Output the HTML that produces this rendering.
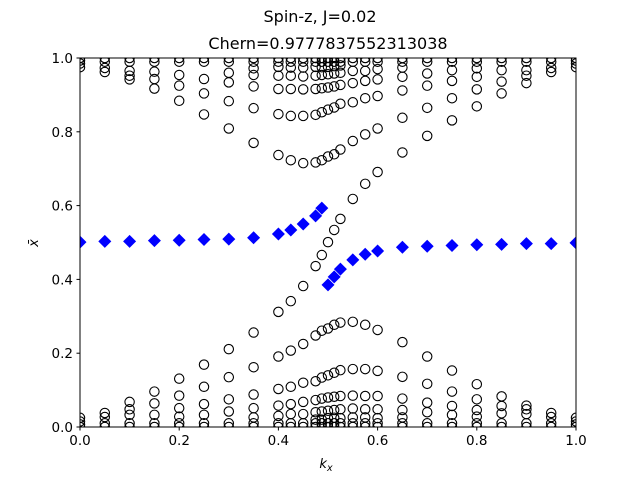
<!DOCTYPE html>
<html><head><meta charset="utf-8"><style>body{margin:0;background:#fff}svg{display:block;font-family:"DejaVu Sans","Liberation Sans",sans-serif}</style></head>
<body>
<svg id="chart" width="640" height="480">
<defs><clipPath id="pc"><rect x="80" y="58" width="496" height="369"/></clipPath></defs>
<rect width="640" height="480" fill="#fff"/>
<text x="320" y="22" text-anchor="middle" font-size="16">Spin-z, J=0.02</text>
<text x="328" y="49" text-anchor="middle" font-size="16">Chern=0.9777837552313038</text>
<g id="marks" clip-path="url(#pc)"></g>
<rect x="80" y="58" width="496" height="369" fill="none" stroke="#000" stroke-width="1"/>
<g id="axes"></g>
<text x="326" y="468" text-anchor="middle" font-size="13" font-style="italic">k<tspan font-size="9.5" dy="3" font-style="italic">x</tspan></text>
<text x="0" y="0" transform="translate(38,243) rotate(-90)" text-anchor="middle" font-size="13" font-style="italic">x̄</text>
</svg>
<script>
const xTicks=[0,0.2,0.4,0.6,0.8,1.0];
const yTicks=[0,0.2,0.4,0.6,0.8,1.0];
const kCols=[0,0.05,0.1,0.15,0.2,0.25,0.3,0.35,0.4,0.425,0.45,0.475,0.4875,0.5,0.5125,0.525,0.55,0.575,0.6,0.65,0.7,0.75,0.8,0.85,0.9,0.95,1.0];
const circleVals=[
[0,0.007,0.015,0.025,0.975,0.985,0.993,1.0],
[0,0.01,0.027,0.038,0.962,0.973,0.99,1.0],
[0,0.01,0.033,0.048,0.068,0.942,0.952,0.965,0.99,1.0],
[0,0.01,0.033,0.064,0.096,0.917,0.943,0.963,0.99,1.0],
[0,0.01,0.028,0.051,0.085,0.131,0.884,0.925,0.954,0.99,1.0],
[0,0.01,0.033,0.062,0.109,0.169,0.847,0.904,0.943,0.99,1.0],
[0,0.01,0.042,0.075,0.135,0.211,0.809,0.883,0.934,0.96,0.99,1.0],
[0,0.01,0.026,0.051,0.088,0.162,0.256,0.770,0.864,0.923,0.954,0.972,0.99,1.0],
[0,0.01,0.03,0.058,0.103,0.191,0.312,0.737,0.848,0.916,0.952,0.976,0.99,1.0],
[0,0.01,0.035,0.062,0.109,0.207,0.341,0.723,0.843,0.916,0.952,0.974,0.99,1.0],
[0,0.01,0.035,0.068,0.120,0.225,0.382,0.715,0.843,0.915,0.950,0.974,0.99,1.0],
[0,0.01,0.02,0.040,0.073,0.124,0.248,0.436,0.717,0.846,0.916,0.952,0.976,0.99,1.0],
[0,0.01,0.02,0.042,0.077,0.134,0.261,0.466,0.723,0.853,0.918,0.954,0.975,0.99,1.0],
[0,0.01,0.024,0.044,0.080,0.140,0.267,0.501,0.733,0.860,0.920,0.956,0.976,0.99,1.0],
[0,0.01,0.025,0.046,0.082,0.147,0.277,0.534,0.739,0.866,0.923,0.958,0.978,0.99,1.0],
[0,0.01,0.024,0.048,0.084,0.154,0.283,0.564,0.752,0.876,0.927,0.960,0.98,0.99,1.0],
[0,0.01,0.026,0.05,0.085,0.157,0.285,0.618,0.775,0.880,0.932,0.965,0.99,1.0],
[0,0.01,0.026,0.048,0.084,0.157,0.277,0.659,0.793,0.891,0.938,0.965,0.99,1.0],
[0,0.01,0.024,0.048,0.084,0.152,0.263,0.691,0.809,0.897,0.942,0.97,0.99,1.0],
[0,0.01,0.026,0.046,0.077,0.136,0.230,0.744,0.838,0.912,0.949,0.974,0.99,1.0],
[0,0.01,0.04,0.066,0.117,0.191,0.789,0.865,0.925,0.958,0.99,1.0],
[0,0.01,0.033,0.057,0.096,0.153,0.831,0.891,0.938,0.967,0.99,1.0],
[0,0.01,0.028,0.046,0.075,0.116,0.869,0.915,0.949,0.972,0.99,1.0],
[0,0.01,0.037,0.057,0.083,0.904,0.936,0.967,0.99,1.0],
[0,0.01,0.035,0.048,0.058,0.932,0.952,0.967,0.99,1.0],
[0,0.01,0.027,0.038,0.962,0.973,0.99,1.0],
[0,0.007,0.015,0.025,0.975,0.985,0.993,1.0]];
const diamondK=[0,0.05,0.1,0.15,0.2,0.25,0.3,0.35,0.4,0.425,0.45,0.475,0.4875,0.5,0.5125,0.525,0.55,0.575,0.6,0.65,0.7,0.75,0.8,0.85,0.9,0.95,1.0];
const diamondVals=[0.501,0.503,0.503,0.505,0.506,0.508,0.509,0.513,0.523,0.534,0.550,0.572,0.593,0.385,0.407,0.428,0.453,0.468,0.477,0.487,0.490,0.492,0.494,0.495,0.497,0.497,0.499];
const NS='http://www.w3.org/2000/svg';
const X=v=>80+496*v, Y=v=>427-369*v;
const marks=document.getElementById('marks'), axes=document.getElementById('axes');
function mk(t,a,p){const e=document.createElementNS(NS,t);for(const k in a)e.setAttribute(k,a[k]);p.appendChild(e);return e;}
kCols.forEach((k,i)=>{circleVals[i].forEach(v=>{
 const c=mk('circle',{cx:X(k),cy:Y(v),r:4.7,fill:'none',stroke:'#000','stroke-width':1.1},marks);
 
 
});});
diamondK.forEach((k,i)=>{const x=X(k),y=Y(diamondVals[i]);
 const d=mk('polygon',{points:`${x},${y-6.5} ${x+6.5},${y} ${x},${y+6.5} ${x-6.5},${y}`,fill:'#0000ff'},marks);
 
 
});
xTicks.forEach(t=>{mk('line',{x1:X(t),x2:X(t),y1:427,y2:430.5,stroke:'#000'},axes);
 const l=mk('text',{x:X(t),y:445,'text-anchor':'middle','font-size':13.5},axes);l.textContent=t.toFixed(1);
 
 });
yTicks.forEach(t=>{mk('line',{x1:76.5,x2:80,y1:Y(t),y2:Y(t),stroke:'#000'},axes);
 const l=mk('text',{x:73,y:Y(t)+5,'text-anchor':'end','font-size':13.5},axes);l.textContent=t.toFixed(1);
 
 });
</script>
</body></html>
